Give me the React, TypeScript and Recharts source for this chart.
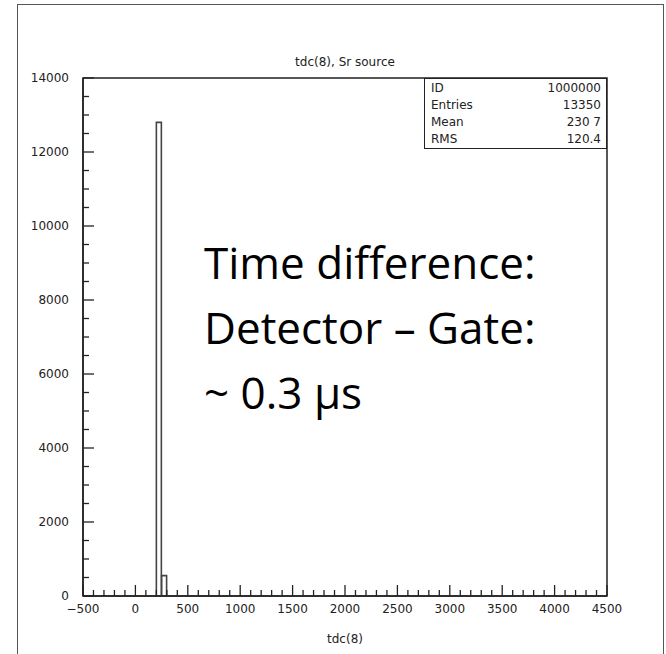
import React from 'react';
import { BarChart, Bar, XAxis, YAxis, ReferenceArea } from 'recharts';

// Histogram bins (bin centres, width 50) and their counts
const binCenters = [225, 275];
const binCounts = [12800, 550];

// Axis labels
const xLabelValues = [-500, 0, 500, 1000, 1500, 2000, 2500, 3000, 3500, 4000, 4500];
const yLabelValues = [0, 2000, 4000, 6000, 8000, 10000, 12000, 14000];
const X_MIN = -500;
const X_MAX = 4500;
const Y_MAX = 14000;
const X_MINOR_STEP = 100;
const Y_MINOR_STEP = 500;

const title = 'tdc(8), Sr source';
const xTitle = 'tdc(8)';
const statLabels = ['ID', 'Entries', 'Mean', 'RMS'];
const statValues = ['1000000', '13350', '230 7', '120.4'];
const noteLines = ['Time difference:', 'Detector \u2013 Gate:', '~ 0.3 \u00b5s'];

const data = binCenters.map((c, i) => ({ x: c, count: binCounts[i] }));

const xTicks: number[] = [];
for (let v = X_MIN; v <= X_MAX; v += X_MINOR_STEP) xTicks.push(v);
const yTicks: number[] = [];
for (let v = 0; v <= Y_MAX; v += Y_MINOR_STEP) yTicks.push(v);

const AX = '#222';
const FONT = '"DejaVu Sans", sans-serif';

const fmt = (v: number) => (v < 0 ? '\u2212' + Math.abs(v) : String(v));

const XTick = (props: any) => {
  const { x, y, payload } = props;
  const v = payload.value;
  const major = xLabelValues.includes(v);
  return (
    <g>
      <line x1={x} x2={x} y1={y} y2={y - (major ? 11 : 6)} stroke={AX} strokeWidth={1.3} />
      {major && (
        <text x={x} y={y + 17} textAnchor="middle" fontFamily={FONT} fontSize={12} fill="#222">
          {fmt(v)}
        </text>
      )}
    </g>
  );
};

const YTick = (props: any) => {
  const { x, y, payload } = props;
  const v = payload.value;
  const major = yLabelValues.includes(v);
  return (
    <g>
      <line x1={x} x2={x + (major ? 11 : 6)} y1={y} y2={y} stroke={AX} strokeWidth={1.3} />
      {major && (
        <text x={x - 14} y={y + 4} textAnchor="end" fontFamily={FONT} fontSize={12} fill="#222">
          {fmt(v)}
        </text>
      )}
    </g>
  );
};

export default function App() {
  return (
    <div style={{ position: 'absolute', left: 0, top: 0, width: 666, height: 654, background: '#fff', overflow: 'hidden' }}>
      <div
        style={{
          position: 'absolute',
          left: 17,
          top: 4,
          width: 645,
          height: 660,
          borderLeft: '1.5px solid #555',
          borderTop: '1.5px solid #555',
          borderRight: '1.5px solid #555',
        }}
      />
      <div style={{ position: 'absolute', left: 0, top: 0 }}>
        <BarChart
          width={666}
          height={654}
          data={data}
          margin={{ top: 78, right: 59, bottom: 57, left: 82 }}
          barCategoryGap={0}
        >
          <XAxis
            type="number"
            dataKey="x"
            domain={[X_MIN, X_MAX]}
            ticks={xTicks}
            interval={0}
            height={1}
            tickSize={0}
            tickMargin={0}
            tickLine={false}
            axisLine={{ stroke: AX, strokeWidth: 1.5 }}
            tick={XTick}
            allowDataOverflow
          />
          <YAxis
            type="number"
            domain={[0, Y_MAX]}
            ticks={yTicks}
            interval={0}
            width={1}
            tickSize={0}
            tickMargin={0}
            tickLine={false}
            axisLine={{ stroke: AX, strokeWidth: 1.5 }}
            tick={YTick}
            allowDataOverflow
          />
          <ReferenceArea
            x1={X_MIN}
            x2={X_MAX}
            y1={0}
            y2={Y_MAX}
            fill="none"
            fillOpacity={0}
            stroke={AX}
            strokeWidth={1.5}
            ifOverflow="visible"
          />
          <Bar dataKey="count" fill="none" stroke="#444" strokeWidth={1.6} isAnimationActive={false} />
        </BarChart>
      </div>
      <div
        style={{
          position: 'absolute',
          left: 0,
          width: 690,
          top: 55,
          textAlign: 'center',
          fontFamily: FONT,
          fontSize: 12,
          color: '#222',
        }}
      >
        {title}
      </div>
      <div
        style={{
          position: 'absolute',
          left: 0,
          width: 690,
          top: 632,
          textAlign: 'center',
          fontFamily: FONT,
          fontSize: 12,
          color: '#222',
        }}
      >
        {xTitle}
      </div>
      <div
        style={{
          position: 'absolute',
          left: 424,
          top: 78,
          width: 183,
          height: 71,
          boxSizing: 'border-box',
          border: '1.5px solid #222',
          background: '#fff',
          fontFamily: FONT,
          fontSize: 12,
          color: '#222',
          paddingTop: 1,
        }}
      >
        {statLabels.map((l, i) => (
          <div key={l} style={{ display: 'flex', justifyContent: 'space-between', height: 17, lineHeight: '17px', padding: '0 5px 0 6px' }}>
            <span>{l}</span>
            <span>{statValues[i]}</span>
          </div>
        ))}
      </div>
      <div
        style={{
          position: 'absolute',
          left: 204,
          top: 230,
          fontFamily: '"Open Sans", sans-serif',
          fontSize: 44,
          lineHeight: '65px',
          color: '#000',
          whiteSpace: 'nowrap',
        }}
      >
        {noteLines.map((t) => (
          <div key={t}>{t}</div>
        ))}
      </div>
    </div>
  );
}
